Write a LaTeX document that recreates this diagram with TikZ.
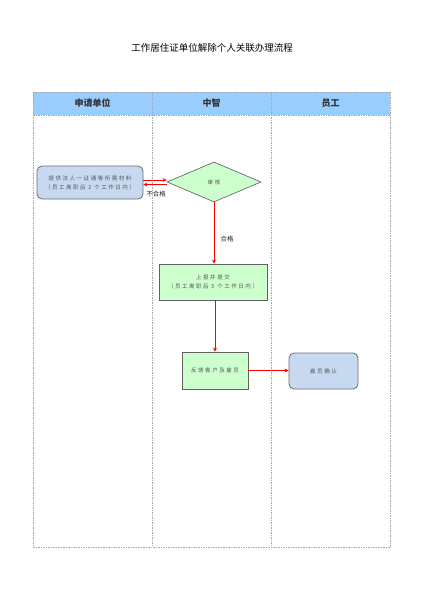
\documentclass[tikz,border=0pt]{standalone}
\usepackage{fontspec}
\setmainfont{Noto Sans CJK SC}
\newfontfamily\cjk{Noto Sans CJK SC}
\newfontfamily\cjksp[LetterSpace=28]{Noto Sans CJK SC}
\usetikzlibrary{shapes.geometric,arrows.meta}
\definecolor{hdrblue}{HTML}{99CCFF}
\definecolor{boxblue}{HTML}{C6D9F1}
\definecolor{boxgreen}{HTML}{CCFFCC}
\definecolor{lanegray}{HTML}{A8A8A8}
\definecolor{txtgray}{HTML}{555555}
\tikzset{
  lane/.style={draw=lanegray, dash pattern=on 1.5pt off 1pt, line width=0.5pt},
  hdr/.style={font=\cjk\fontsize{9}{10}\selectfont\bfseries, text=black!80},
  bluebox/.style={draw=gray!85!black, fill=boxblue, rounded corners=5pt, line width=0.8pt, font=\cjksp\fontsize{5.5}{9}\selectfont, text=txtgray, align=center, inner sep=0pt},
  greenbox/.style={draw=gray!75!black, fill=boxgreen, line width=0.8pt, font=\cjksp\fontsize{5.5}{9}\selectfont, text=txtgray, align=center, inner sep=0pt},
  flow/.style={draw=red, line width=1pt, -{Stealth[length=4pt,width=4pt]}},
  lbl/.style={font=\cjk\fontsize{6.5}{7}\selectfont, text=black!85, inner sep=1pt}
}
\begin{document}
\begin{tikzpicture}[x=1pt,y=-1pt]
\useasboundingbox (0,0) rectangle (424,600);
% title
\node[font=\cjk\fontsize{9.5}{11}\selectfont] (title) at (212,48) {工作居住证单位解除个人关联办理流程};
% lanes
\fill[hdrblue] (33,92) rectangle (390,115);
\draw[lane] (33,92) rectangle (390,547);
\draw[lane] (33,115) -- (390,115);
\draw[lane] (152,92) -- (152,547);
\draw[lane] (271,92) -- (271,547);
\node[hdr] (h1) at (92.5,103.5) {申请单位};
\node[hdr] (h2) at (211.5,103.5) {中智};
\node[hdr] (h3) at (330.5,103.5) {员工};
% nodes
\node[bluebox, minimum width=106pt, minimum height=33pt] (b1) at (90,182.5)
  {提供法人一证通等所需材料\\（员工离职后 2 个工作日内）};
\node[diamond, draw=gray!70!black, fill=boxgreen, line width=0.6pt, minimum width=94pt, minimum height=40pt, aspect=2.35, inner sep=0pt, font=\cjksp\fontsize{5.5}{7}\selectfont, text=txtgray] (d) at (214,182) {审核};
\node[greenbox, minimum width=108pt, minimum height=36pt] (b2) at (213,282)
  {上报并提交\\（员工离职后 5 个工作日内）};
\node[greenbox, minimum width=66pt, minimum height=37pt] (b3) at (215,370.5) {反馈客户及雇员};
\node[bluebox, minimum width=69pt, minimum height=36pt] (b4) at (323.5,371) {雇员确认};
% connectors
\draw[flow] ([yshift=2.5pt]b1.east) -- ([yshift=2.5pt]b1.east -| d.west);
\draw[flow] ([yshift=-2pt]b1.east -| d.west) -- ([yshift=-2pt]b1.east);
\node[lbl] (ng) at (156,194) {不合格};
\draw[flow] (d.south) -- (d.south |- b2.north);
\node[lbl] (hg) at (227,239) {合格};
\draw[flow] (b2.south -| b3.north) -- (b3.north);
\draw[flow] (b3.east) -- (b3.east -| b4.west);
\end{tikzpicture}
\end{document}
